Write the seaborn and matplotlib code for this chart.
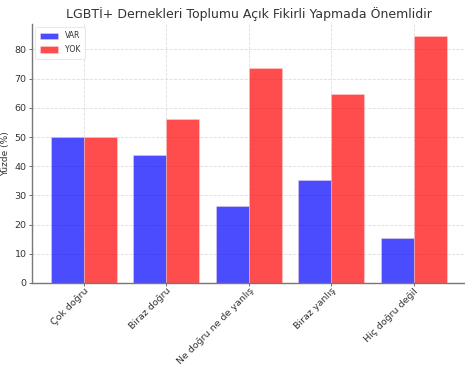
import matplotlib
matplotlib.use("Agg")
import matplotlib.pyplot as plt
import seaborn as sns
import pandas as pd

categories = ["Çok doğru", "Biraz doğru", "Ne doğru ne de yanlış", "Biraz yanlış", "Hiç doğru değil"]
var_values = [50.0, 43.9, 26.4, 35.3, 15.4]
yok_values = [50.0, 56.1, 73.6, 64.7, 84.6]
series_names = ["VAR", "YOK"]

df = pd.DataFrame({
    "Kategori": categories * 2,
    "Yüzde": var_values + yok_values,
    "Grup": [series_names[0]] * len(categories) + [series_names[1]] * len(categories),
})

sns.set_theme(style="white")
plt.rcParams["font.family"] = ["DejaVu Sans"]

fig = plt.figure(figsize=(4.65, 3.68), dpi=100)
ax = fig.add_axes([32 / 465, 85 / 368, 433 / 465, 259.3 / 368])

sns.barplot(data=df, x="Kategori", y="Yüzde", hue="Grup", order=categories,
            hue_order=series_names, palette={"VAR": "blue", "YOK": "red"},
            saturation=1, alpha=0.7, width=0.8, ax=ax, errorbar=None,
            linewidth=0.4, edgecolor="#ffdddd")

ax.set_xlim(-0.63, 4.62)
ax.set_ylim(0, 88.83)
ax.set_yticks(range(0, 81, 10))
ax.grid(True, linestyle="--", color="#dddddd", linewidth=0.6)
ax.set_axisbelow(True)

for side in ("top", "right"):
    ax.spines[side].set_visible(False)
for side in ("left", "bottom"):
    ax.spines[side].set_color("#777777")
    ax.spines[side].set_linewidth(1.0)

ax.tick_params(axis="y", labelsize=6.8, colors="#555555", length=2.5, width=0.6,
               left=True, pad=1.5)
ax.tick_params(axis="x", labelsize=6.8, colors="#555555", length=2.0, width=0.6,
               bottom=True, pad=0.5)
ax.tick_params(axis="both", labelcolor="#333333")
plt.setp(ax.get_xticklabels(), rotation=45, ha="right", rotation_mode="anchor")

ax.set_xlabel("")
ax.set_ylabel("Yüzde (%)", fontsize=6.5, color="#333333", labelpad=3)
ax.set_title("LGBTİ+ Dernekleri Toplumu Açık Fikirli Yapmada Önemlidir",
             fontsize=9.0, color="#333333", pad=4)

leg = ax.legend(loc="upper left", fontsize=5.6, frameon=True, handlelength=2.4,
                handleheight=0.85, borderpad=0.6, labelspacing=0.6, title=None,
                borderaxespad=0.4)
leg.get_frame().set_edgecolor("#dddddd")
leg.get_frame().set_linewidth(0.6)
for t in leg.get_texts():
    t.set_color("#333333")

fig.savefig("out.png", dpi=100)
